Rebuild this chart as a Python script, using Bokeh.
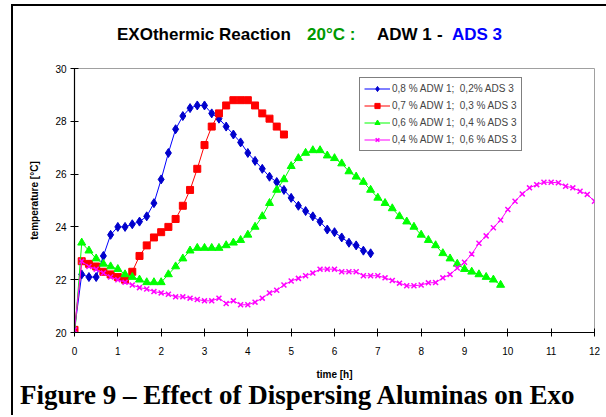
from bokeh.plotting import figure
from bokeh.layouts import column
from bokeh.models import Legend, LegendItem, FixedTicker, Range1d, Div
from bokeh.embed import file_html
from bokeh.resources import INLINE

# sampling grid: one reading every 10 minutes
sample_minutes = list(range(0, 730, 10))

blue_temp = [20.1, 22.2, 22.1, 22.1, 22.9, 23.7, 24.0, 24.0, 24.1, 24.2,
             24.4, 24.9, 25.8, 26.8, 27.7, 28.2, 28.5, 28.6, 28.6, 28.3,
             28.1, 27.8, 27.5, 27.2, 26.8, 26.5, 26.2, 25.9, 25.7, 25.4,
             25.1, 24.8, 24.6, 24.4, 24.2, 23.9, 23.8, 23.6, 23.4, 23.3,
             23.1, 23.0]
red_temp = [20.1, 22.7, 22.6, 22.5, 22.3, 22.2, 22.1, 22.0, 22.3, 22.9,
            23.3, 23.6, 23.8, 24.0, 24.3, 24.8, 25.4, 26.2, 27.1, 27.8,
            28.3, 28.6, 28.8, 28.8, 28.8, 28.6, 28.3, 28.1, 27.8, 27.5]
green_temp = [19.8, 23.4, 23.1, 22.8, 22.6, 22.5, 22.4, 22.2, 22.1, 22.0,
              21.9, 21.9, 21.9, 22.2, 22.5, 22.8, 23.1, 23.2, 23.2, 23.2,
              23.2, 23.3, 23.4, 23.5, 23.7, 24.0, 24.4, 24.9, 25.4, 25.8,
              26.3, 26.6, 26.8, 26.9, 26.9, 26.7, 26.6, 26.4, 26.1, 25.9,
              25.7, 25.4, 25.1, 24.9, 24.7, 24.4, 24.2, 24.0, 23.7, 23.5,
              23.3, 23.0, 22.8, 22.6, 22.4, 22.3, 22.2, 22.1, 22.0, 21.8]
magenta_temp = [20.1, 22.7, 22.5, 22.4, 22.25, 22.1, 22.0, 21.9, 21.8, 21.7,
                21.65, 21.55, 21.5, 21.45, 21.35, 21.35, 21.3, 21.25, 21.2, 21.2,
                21.3, 21.1, 21.2, 21.05, 21.05, 21.15, 21.3, 21.5, 21.6, 21.8,
                21.95, 22.05, 22.15, 22.25, 22.4, 22.4, 22.4, 22.3, 22.3, 22.3,
                22.15, 22.15, 22.15, 22.07, 21.97, 21.87, 21.77, 21.77, 21.8, 21.88,
                21.89, 22.07, 22.2, 22.44, 22.66, 22.97, 23.38, 23.66, 23.97, 24.26,
                24.66, 24.97, 25.25, 25.48, 25.6, 25.69, 25.69, 25.67, 25.54, 25.48,
                25.35, 25.23, 24.97]

legend_labels = ["0,8 % ADW 1;  0,2% ADS 3", "0,7 % ADW 1;  0,3 % ADS 3",
                 "0,6 % ADW 1;  0,4 % ADS 3", "0,4 % ADW 1;  0,6 % ADS 3"]
x_ticks = [0, 1, 2, 3, 4, 5, 6, 7, 8, 9, 10, 11, 12]
y_ticks = [20, 22, 24, 26, 28, 30]

def hours(values):
    return [m / 60 for m in sample_minutes[:len(values)]]

span_style = "position:absolute;top:20px;"
title_html = (
    '<div style="position:relative;margin:0;padding:0;height:50px;width:593px;'
    'font-family:\'Liberation Sans\',Arial,sans-serif;font-weight:bold;font-size:17px;'
    'line-height:17px;white-space:pre;color:black">'
    '<span style="' + span_style + 'left:104px">EXOthermic Reaction</span>'
    '<span style="' + span_style + 'left:294px;color:#009900">20°C :</span>'
    '<span style="' + span_style + 'left:364px">ADW 1</span>'
    '<span style="' + span_style + 'left:424px">-</span>'
    '<span style="' + span_style + 'left:439px;color:#0000FF">ADS 3</span>'
    '</div>'
)
caption_html = (
    '<div style="margin:0;padding:0 0 0 7px;font-family:\'Liberation Serif\',\'Times New Roman\',serif;'
    'font-weight:bold;font-size:27px;line-height:27px;white-space:pre;color:black">'
    'Figure 9 \u2013 Effect of Dispersing Aluminas on Exo</div>'
)
title_div = Div(text=title_html, width=593, height=50, margin=0)
caption_div = Div(text=caption_html, width=593, height=33, margin=0)

p = figure(width=593, height=326, output_backend="svg", toolbar_location=None,
           x_range=Range1d(0, 12), y_range=Range1d(20, 30),
           min_border_left=61, min_border_right=12, min_border_top=12,
           min_border_bottom=48)
p.background_fill_color = "white"
p.border_fill_color = "white"
p.outline_line_color = "#a0a0a0"
p.outline_line_width = 1
p.xgrid.visible = False
p.ygrid.visible = False

for ax in (p.xaxis[0], p.yaxis[0]):
    ax.axis_line_color = "black"
    ax.axis_line_width = 1.2
    ax.major_tick_line_color = "black"
    ax.major_tick_in = 4
    ax.major_tick_out = 4
    ax.minor_tick_line_color = None
    ax.major_label_text_font = "Liberation Sans"
    ax.major_label_text_font_size = "10px"
    ax.major_label_text_color = "black"
    ax.axis_label_text_font = "Liberation Sans"
    ax.axis_label_text_font_style = "bold"
    ax.axis_label_text_font_size = "10px"
    ax.axis_label_text_color = "black"

p.xaxis.ticker = FixedTicker(ticks=x_ticks)
p.yaxis.ticker = FixedTicker(ticks=y_ticks)
p.xaxis.axis_label = "time [h]"
p.yaxis.axis_label = "temperature [°C]"
p.xaxis.major_label_standoff = 10
p.yaxis.major_label_standoff = 4
p.xaxis.axis_label_standoff = 11
p.yaxis.axis_label_standoff = 12

items = []
l1 = p.line(hours(blue_temp), blue_temp, line_color="#0000FF", line_width=1)
m1 = p.scatter(hours(blue_temp), blue_temp, marker="diamond", size=9,
               fill_color="#0000CC", line_color="#0000CC")
l2 = p.line(hours(red_temp), red_temp, line_color="#FF0000", line_width=1)
m2 = p.scatter(hours(red_temp), red_temp, marker="square", size=7,
               fill_color="#FF0000", line_color="#FF0000")
l3 = p.line(hours(green_temp), green_temp, line_color="#00FF00", line_width=1)
m3 = p.scatter(hours(green_temp), green_temp, marker="triangle", size=8,
               fill_color="#00FF00", line_color="#00FF00")
l4 = p.line(hours(magenta_temp), magenta_temp, line_color="#FF00FF", line_width=1)
m4 = p.scatter(hours(magenta_temp), magenta_temp, marker="x", size=7,
               line_color="#FF00FF", line_width=1.5)

for lab, rs in zip(legend_labels, [[l1, m1], [l2, m2], [l3, m3], [l4, m4]]):
    items.append(LegendItem(label=lab, renderers=rs))

legend = Legend(items=items, location=(285, 181), label_text_font="Liberation Sans",
                label_text_font_size="10px", glyph_width=26, glyph_height=13,
                label_height=13, spacing=4, padding=4, margin=0,
                label_standoff=2, border_line_color="black", border_line_width=1,
                background_fill_color="white", background_fill_alpha=1)
p.add_layout(legend)

layout = column(title_div, p, caption_div, spacing=0)
layout.styles = {"border-left": "2px solid black", "border-top": "2px solid black",
                 "margin-left": "11px", "margin-top": "4px"}

open("out.html", "w").write(file_html(layout, INLINE))
